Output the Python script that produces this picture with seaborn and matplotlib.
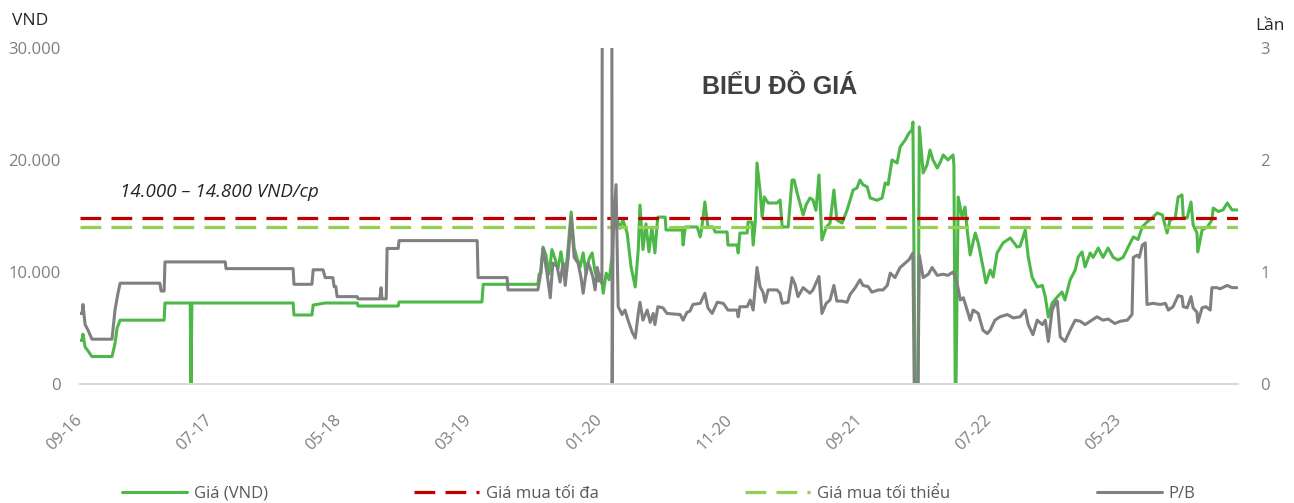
import pandas as pd
import matplotlib
matplotlib.use("Agg")
import matplotlib.pyplot as plt
import matplotlib.dates as mdates
import seaborn as sns

# dates are days counted from START
START = pd.Timestamp("2016-09-01")
END_DAY = 2711

price_days = [0, 5, 7, 12, 19, 28, 75, 82, 87, 94, 197, 199, 258, 260, 262, 499, 501, 543, 546, 574,
              649, 651, 745, 747, 941, 944, 1072, 1075, 1079, 1084, 1091, 1098, 1105, 1112, 1119, 1126,
              1133, 1140, 1150, 1157, 1164, 1171, 1178, 1185, 1192, 1199, 1206, 1213, 1220, 1225, 1232,
              1239, 1246, 1250, 1257, 1264, 1271, 1281, 1290, 1300, 1307, 1311, 1318, 1325, 1332, 1339,
              1346, 1351, 1353, 1370, 1372, 1410, 1412, 1417, 1445, 1452, 1456, 1463, 1470, 1482, 1487,
              1515, 1517, 1538, 1541, 1545, 1562, 1564, 1573, 1576, 1581, 1585, 1592, 1597, 1602, 1611,
              1632, 1639, 1644, 1658, 1667, 1672, 1679, 1693, 1700, 1709, 1716, 1723, 1730, 1737, 1747,
              1756, 1765, 1772, 1784, 1796, 1810, 1819, 1826, 1833, 1843, 1850, 1866, 1878, 1885, 1892,
              1901, 1913, 1920, 1932, 1941, 1948, 1950, 1955, 1962, 1965, 1974, 1983, 1990, 1997, 2007,
              2014, 2021, 2032, 2044, 2046, 2049, 2051, 2056, 2065, 2072, 2077, 2084, 2096, 2103, 2114,
              2121, 2131, 2138, 2147, 2161, 2178, 2194, 2201, 2213, 2220, 2229, 2241, 2253, 2260, 2267,
              2276, 2288, 2299, 2306, 2318, 2330, 2337, 2346, 2353, 2365, 2372, 2384, 2395, 2407, 2419,
              2430, 2442, 2454, 2466, 2477, 2487, 2498, 2510, 2522, 2534, 2545, 2552, 2564, 2571, 2580,
              2583, 2592, 2601, 2606, 2615, 2617, 2627, 2639, 2650, 2653, 2665, 2676, 2686, 2697, 2709]
price_vnd = [3900, 3900, 4450, 3300, 2950, 2450, 2450, 3600, 5000, 5700, 5700, 7230, 7230, 0, 7230, 7230,
             6160, 6160, 7050, 7230, 7230, 6960, 6960, 7320, 7320, 8900, 8900, 9820, 9820, 12230, 11500,
             9800, 12000, 11200, 10300, 11800, 10000, 11000, 15360, 12140, 11200, 10450, 11700, 9800,
             11200, 11700, 10000, 9200, 9800, 8100, 9900, 9300, 11500, 14800, 14800, 13900, 14650, 13480,
             10500, 8660, 12000, 15980, 12000, 14300, 11800, 14000, 11700, 14200, 14900, 14900, 13750,
             13750, 12410, 14020, 14020, 13130, 14020, 16250, 14020, 14020, 13570, 13570, 12410, 12410,
             11700, 13480, 13480, 14460, 14460, 12410, 14460, 19730, 17320, 14900, 16700, 16160, 16160,
             16430, 14020, 14020, 18210, 18210, 17050, 15090, 16000, 16610, 16430, 15500, 18660, 12860,
             14000, 14370, 17320, 14640, 14370, 15540, 17320, 17500, 18210, 17800, 17600, 16610, 16400,
             16610, 17950, 17800, 20000, 19730, 21160, 21790, 22410, 22680, 23390, 0, 0, 22950, 18840,
             19550, 20890, 20000, 19280, 19800, 20450, 20000, 20450, 19550, 0, 0, 16700, 14900, 15800,
             13750, 11520, 13480, 12590, 10450, 9020, 10180, 9550, 11700, 12590, 13040, 12230, 12300,
             13750, 11340, 9550, 8660, 8800, 7770, 5980, 7230, 7770, 8210, 7500, 9290, 10180, 11340,
             11790, 10450, 11700, 11300, 12140, 11300, 12140, 11300, 11070, 11300, 12230, 13130, 12900,
             14020, 14460, 14820, 15270, 15100, 13480, 14640, 14820, 16700, 16880, 14900, 14820, 16250,
             14200, 13480, 11790, 13750, 14000, 14640, 15710, 15400, 15540, 16160, 15540, 15540]

pb_days = [0, 5, 7, 12, 19, 28, 75, 82, 89, 94, 187, 190, 197, 199, 340, 342, 499, 501, 543, 546, 569,
           574, 592, 595, 599, 602, 649, 651, 702, 705, 707, 717, 719, 745, 747, 930, 932, 1000, 1002,
           1072, 1077, 1084, 1093, 1101, 1107, 1117, 1124, 1131, 1136, 1143, 1150, 1157, 1166, 1173,
           1178, 1185, 1189, 1194, 1201, 1206, 1211, 1218, 1222, 1225, 1243, 1246, 1248, 1255, 1260,
           1269, 1276, 1283, 1293, 1300, 1307, 1311, 1318, 1328, 1335, 1342, 1346, 1353, 1365, 1374,
           1405, 1412, 1421, 1428, 1435, 1452, 1463, 1470, 1480, 1492, 1506, 1517, 1538, 1541, 1545,
           1562, 1569, 1576, 1585, 1592, 1599, 1604, 1611, 1632, 1639, 1644, 1658, 1667, 1674, 1681,
           1693, 1709, 1716, 1730, 1737, 1747, 1756, 1765, 1772, 1784, 1796, 1803, 1815, 1826, 1833,
           1845, 1854, 1869, 1880, 1890, 1897, 1908, 1920, 1932, 1941, 1950, 1953, 1962, 1965, 1974,
           1986, 1995, 2007, 2021, 2032, 2044, 2053, 2061, 2068, 2077, 2084, 2091, 2103, 2114, 2124,
           2131, 2142, 2154, 2171, 2185, 2201, 2213, 2220, 2231, 2241, 2253, 2260, 2267, 2276, 2283,
           2288, 2295, 2306, 2318, 2330, 2342, 2353, 2365, 2381, 2395, 2407, 2423, 2435, 2452, 2463,
           2466, 2475, 2480, 2487, 2494, 2498, 2512, 2529, 2541, 2548, 2559, 2571, 2580, 2583, 2592,
           2601, 2606, 2615, 2617, 2627, 2636, 2646, 2650, 2662, 2669, 2686, 2697, 2709]
pb_ratio = [0.63, 0.63, 0.71, 0.53, 0.48, 0.40, 0.40, 0.66, 0.81, 0.90, 0.90, 0.83, 0.83, 1.09, 1.09,
            1.03, 1.03, 0.89, 0.89, 1.02, 1.02, 0.95, 0.95, 0.87, 0.87, 0.78, 0.78, 0.76, 0.76, 0.86,
            0.76, 0.76, 1.21, 1.21, 1.28, 1.28, 0.95, 0.95, 0.84, 0.84, 0.95, 1.21, 1.00, 0.77, 1.08,
            1.05, 0.91, 1.08, 0.88, 1.13, 1.49, 1.13, 1.08, 0.95, 0.81, 1.00, 1.08, 1.04, 0.95, 0.84,
            1.04, 0.92, 0.90, 12.0, 12.0, 0.0, 1.30, 1.78, 0.69, 0.62, 0.66, 0.57, 0.46, 0.41, 0.63,
            0.73, 0.57, 0.66, 0.55, 0.63, 0.53, 0.69, 0.68, 0.63, 0.62, 0.57, 0.64, 0.65, 0.71, 0.72,
            0.81, 0.68, 0.63, 0.73, 0.72, 0.66, 0.66, 0.60, 0.69, 0.69, 0.75, 0.66, 1.04, 0.87, 0.82,
            0.73, 0.84, 0.84, 0.81, 0.72, 0.73, 0.95, 0.89, 0.78, 0.86, 0.81, 0.84, 0.96, 0.63, 0.72,
            0.75, 0.88, 0.74, 0.74, 0.73, 0.80, 0.86, 0.93, 0.88, 0.87, 0.82, 0.84, 0.84, 0.88, 0.99,
            0.95, 1.04, 1.08, 1.11, 1.17, 0.0, 0.0, 1.15, 0.95, 0.98, 1.04, 0.97, 0.98, 0.97, 1.00,
            0.91, 0.75, 0.77, 0.66, 0.57, 0.66, 0.63, 0.48, 0.45, 0.48, 0.57, 0.60, 0.62, 0.59, 0.60,
            0.66, 0.53, 0.44, 0.57, 0.53, 0.57, 0.38, 0.66, 0.72, 0.74, 0.42, 0.38, 0.48, 0.57, 0.56,
            0.53, 0.56, 0.60, 0.57, 0.58, 0.54, 0.56, 0.57, 0.62, 1.13, 1.15, 1.13, 1.24, 1.26, 0.71,
            0.72, 0.71, 0.72, 0.66, 0.69, 0.79, 0.78, 0.69, 0.68, 0.78, 0.68, 0.64, 0.55, 0.68, 0.69,
            0.66, 0.86, 0.86, 0.85, 0.88, 0.86, 0.86]

max_buy = 14800
min_buy = 14000
tick_dates = ["2016-09-01", "2017-07-01", "2018-05-01", "2019-03-01", "2020-01-01",
              "2020-11-01", "2021-09-01", "2022-07-01", "2023-05-01"]
left_ticks = [0, 10000, 20000, 30000]
left_labels = ["0", "10.000", "20.000", "30.000"]
right_ticks = [0, 1, 2, 3]

sns.set_style("white")
plt.rcParams["font.family"] = ["Open Sans", "DejaVu Sans"]

price = pd.DataFrame({"date": START + pd.to_timedelta(price_days, unit="D"), "value": price_vnd})
pb = pd.DataFrame({"date": START + pd.to_timedelta(pb_days, unit="D"), "value": pb_ratio})

fig = plt.figure(figsize=(12.94, 5.03), dpi=100)
ax = fig.add_axes([0.0618, 0.2366, 0.8949, 0.668])

sns.lineplot(data=price, x="date", y="value", ax=ax, color="#4db848", linewidth=2.2,
             label="Giá (VND)", estimator=None)
ax.axhline(max_buy, color="#c00000", linewidth=2.3, dashes=(6.5, 3.2), label="Giá mua tối đa")
ax.axhline(min_buy, color="#92d050", linewidth=2.3, dashes=(6.5, 3.2), label="Giá mua tối thiểu")

ax2 = ax.twinx()
sns.lineplot(data=pb, x="date", y="value", ax=ax2, color="#808080", linewidth=2.2,
             label="P/B", estimator=None)

ax.set_xlim(START, START + pd.Timedelta(days=END_DAY))
ax.set_ylim(0, 30000)
ax2.set_ylim(0, 3)

ax.set_xticks(pd.to_datetime(tick_dates))
ax.xaxis.set_major_formatter(mdates.DateFormatter("%m-%y"))
ax.set_yticks(left_ticks)
ax.set_yticklabels(left_labels)
ax2.set_yticks(right_ticks)

ax.tick_params(axis="x", length=0, pad=24, labelsize=12, labelcolor="#7f7f7f")
for lbl in ax.get_xticklabels():
    lbl.set_rotation(45)
    lbl.set_ha("right")
    lbl.set_va("center")
    lbl.set_rotation_mode("anchor")
ax.tick_params(axis="y", length=0, pad=14, labelsize=12, labelcolor="#7f7f7f")
ax2.tick_params(axis="y", length=0, pad=16, labelsize=12, labelcolor="#7f7f7f")

for a in (ax, ax2):
    a.set_xlabel("")
    a.set_ylabel("")
    for side in ["top", "left", "right"]:
        a.spines[side].set_visible(False)
    a.spines["bottom"].set_color("#d9d9d9")
    a.spines["bottom"].set_linewidth(1.3)

h1, l1 = ax.get_legend_handles_labels()
h2, l2 = ax2.get_legend_handles_labels()
ax.get_legend().remove()
ax2.get_legend().remove()
fig.legend(h1 + h2, l1 + l2, loc="center", bbox_to_anchor=(0.509, 0.018), ncol=4, frameon=False,
           fontsize=12, labelcolor="#595959", handlelength=3.9, handletextpad=0.4, columnspacing=8.8)

fig.text(780 / 1294, 1 - 87 / 503, "BIỂU ĐỒ GIÁ", ha="center", va="center", fontsize=18,
         fontweight="bold", color="#404040", family=["Liberation Sans", "DejaVu Sans"])
fig.text(120 / 1294, 1 - 192 / 503, "14.000 – 14.800 VND/cp", ha="left", va="center",
         fontsize=13.5, style="italic", color="#262626")
fig.text(30 / 1294, 1 - 21 / 503, "VND", ha="center", va="center", fontsize=12.5, color="#262626")
fig.text(1270 / 1294, 1 - 26 / 503, "Lần", ha="center", va="center", fontsize=12.5, color="#262626")

fig.savefig("out.png", dpi=100)
plt.close(fig)
